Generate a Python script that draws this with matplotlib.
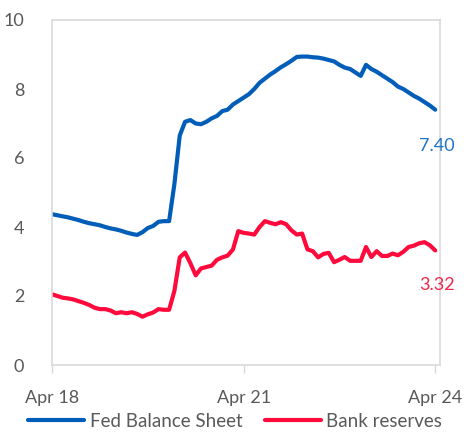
import matplotlib
matplotlib.use("Agg")
import matplotlib.pyplot as plt
import numpy as np

plt.rcParams['font.family'] = ['Lato', 'DejaVu Sans']

# Monthly index: 0 = Apr 2018 ... 72 = Apr 2024
fed_balance_sheet = [
    4.37, 4.34, 4.31, 4.28, 4.24, 4.20, 4.15, 4.11, 4.08, 4.05,
    4.00, 3.96, 3.93, 3.89, 3.84, 3.80, 3.77, 3.85, 3.97, 4.03,
    4.15, 4.17, 4.17, 5.25, 6.65, 7.05, 7.10, 7.00, 6.98, 7.05,
    7.15, 7.22, 7.36, 7.40, 7.55, 7.65, 7.75, 7.85, 8.00, 8.18,
    8.30, 8.42, 8.52, 8.63, 8.72, 8.82, 8.93, 8.94, 8.94, 8.92,
    8.91, 8.88, 8.84, 8.80, 8.70, 8.62, 8.58, 8.48, 8.38, 8.70,
    8.58, 8.50, 8.40, 8.30, 8.20, 8.07, 8.00, 7.90, 7.80, 7.72,
    7.62, 7.52, 7.40,
]
bank_reserves = [
    2.05, 2.00, 1.95, 1.93, 1.90, 1.85, 1.80, 1.74, 1.66, 1.62,
    1.62, 1.58, 1.50, 1.53, 1.50, 1.53, 1.48, 1.40, 1.47, 1.52,
    1.62, 1.60, 1.60, 2.15, 3.12, 3.26, 2.95, 2.60, 2.80, 2.84,
    2.88, 3.05, 3.12, 3.17, 3.35, 3.88, 3.83, 3.81, 3.78, 4.00,
    4.17, 4.12, 4.08, 4.14, 4.08, 3.90, 3.78, 3.81, 3.35, 3.30,
    3.12, 3.22, 3.25, 2.98, 3.05, 3.13, 3.02, 3.02, 3.02, 3.42,
    3.13, 3.30, 3.16, 3.16, 3.23, 3.18, 3.28, 3.42, 3.46, 3.53,
    3.56, 3.47, 3.32,
]
tick_positions = [0, 36, 72]
tick_labels = ["Apr 18", "Apr 21", "Apr 24"]
series_names = ["Fed Balance Sheet", "Bank reserves"]
end_labels = ["7.40", "3.32"]

blue = "#005EB8"
red = "#FF0A3C"
grey_text = "#595959"
spine_col = "#D9D9D9"

fig = plt.figure(figsize=(4.70, 4.33), dpi=100)
ax = fig.add_axes([52/470, 1 - 365/433, (440-52)/470, (365-20)/433])

x = np.arange(len(fed_balance_sheet))
ax.plot(x, fed_balance_sheet, color=blue, lw=3.0, label=series_names[0],
        solid_joinstyle='round', solid_capstyle='round')
ax.plot(x, bank_reserves, color=red, lw=3.0, label=series_names[1],
        solid_joinstyle='round', solid_capstyle='round')

ax.set_xlim(0, 72.9)
ax.set_ylim(0, 10)
ax.set_yticks([0, 2, 4, 6, 8, 10])
ax.set_xticks(tick_positions)
ax.set_xticklabels(tick_labels)

for s in ax.spines.values():
    s.set_color(spine_col)
    s.set_linewidth(1.2)

ax.tick_params(axis='y', length=0, pad=20, labelsize=13, labelcolor=grey_text)
ax.tick_params(axis='x', length=6, width=1, color=spine_col, pad=12,
               labelsize=13, labelcolor=grey_text)

ax.annotate(end_labels[0], xy=(x[-1], fed_balance_sheet[-1]), xytext=(1, -26),
            textcoords='offset points', ha='center', va='center',
            color="#1F72C8", fontsize=13)
ax.annotate(end_labels[1], xy=(x[-1], bank_reserves[-1]), xytext=(1, -25),
            textcoords='offset points', ha='center', va='center',
            color="#F0284A", fontsize=13)

fig.legend(loc='lower center', bbox_to_anchor=(0.5, -0.032), ncol=2,
           frameon=False, fontsize=13.5, handlelength=3.0, handletextpad=0.3,
           columnspacing=1.2, labelcolor=grey_text)

fig.savefig("out.png", dpi=100)
